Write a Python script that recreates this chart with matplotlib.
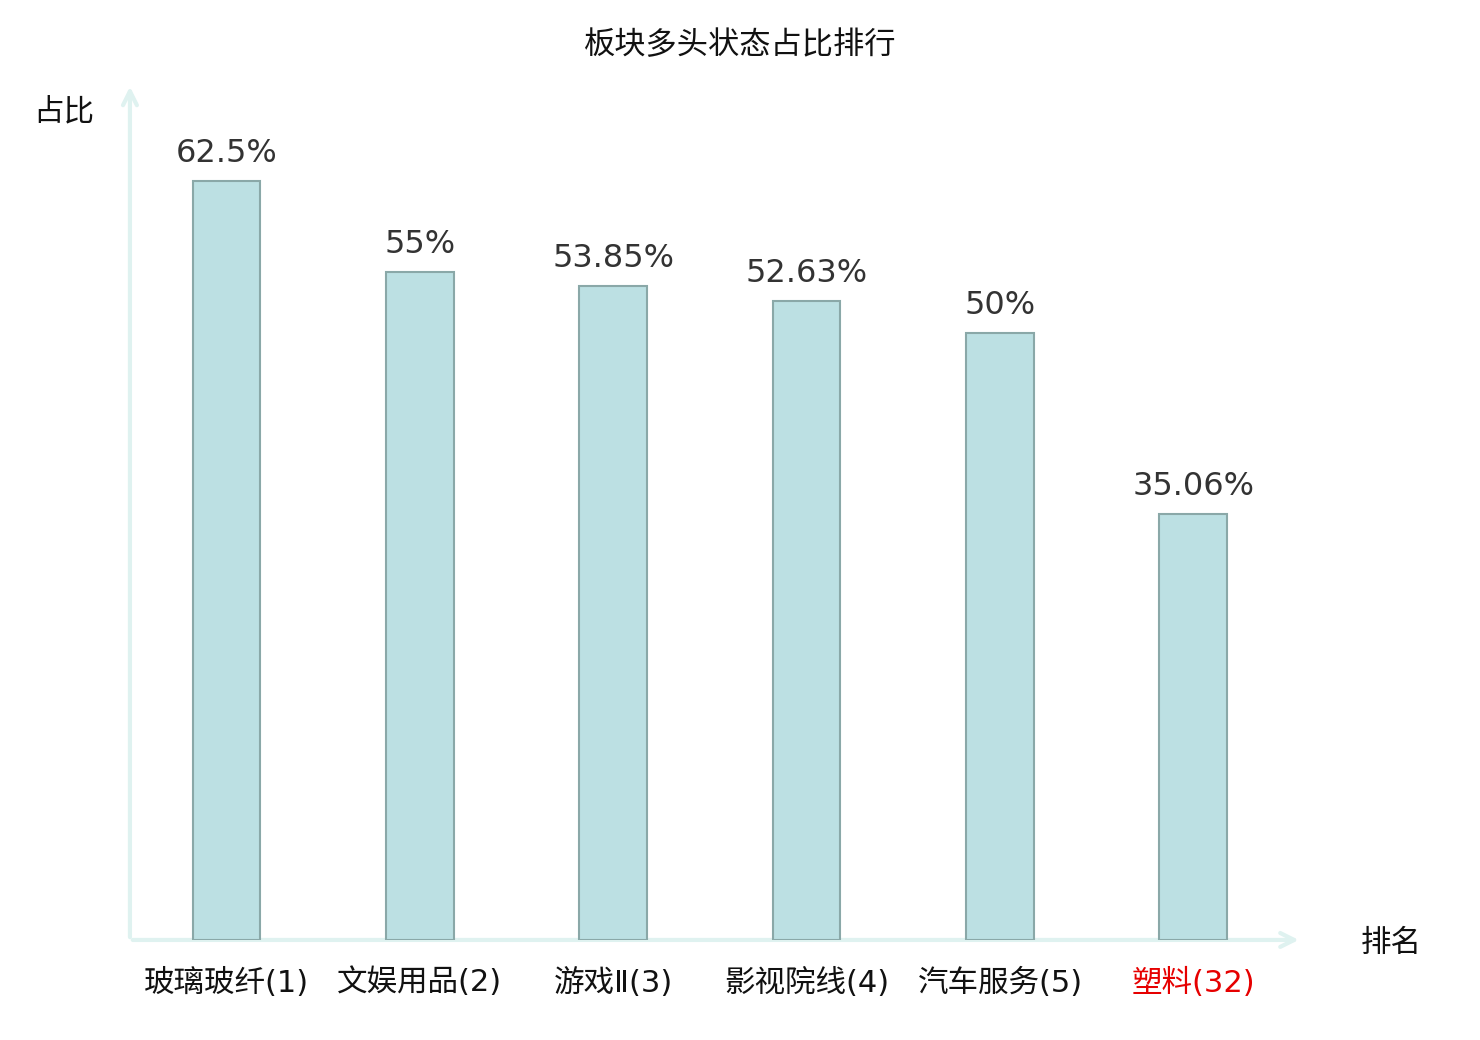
import matplotlib
matplotlib.use("Agg")
import matplotlib.pyplot as plt

plt.rcParams['font.family'] = ['Noto Sans CJK SC', 'DejaVu Sans']

# Data
categories = ["玻璃玻纤(1)", "文娱用品(2)", "游戏Ⅱ(3)", "影视院线(4)", "汽车服务(5)", "塑料(32)"]
values = [62.5, 55, 53.85, 52.63, 50, 35.06]
value_labels = ["62.5%", "55%", "53.85%", "52.63%", "50%", "35.06%"]
label_colors = ["#111111", "#111111", "#111111", "#111111", "#111111", "#e60000"]

fig = plt.figure(figsize=(14.8, 10.4), dpi=100)
ax = fig.add_axes([0.0878, 0.0962, 0.7838, 0.8173])

x = list(range(len(categories)))
bars = ax.bar(x, values, width=0.35, color="#bce0e3", edgecolor="#8aa8a8", linewidth=1.5, zorder=2)

for xi, v, lab in zip(x, values, value_labels):
    ax.text(xi, v + 1.0, lab, ha="center", va="bottom", fontsize=23,
            color="#333333", family="DejaVu Sans")

ax.set_xlim(-0.5, 5.5)
ax.set_ylim(0, 70)

for s in ax.spines.values():
    s.set_visible(False)
ax.set_yticks([])
ax.set_xticks(x)
ax.set_xticklabels(categories, fontsize=22, family=['DejaVu Sans', 'Noto Sans CJK SC'])
for t, c in zip(ax.get_xticklabels(), label_colors):
    t.set_color(c)
ax.tick_params(axis="x", length=0, pad=20)

# axis lines with open arrows
axis_color = "#dff2f0"
ax.annotate("", xy=(5.56, 0), xytext=(-0.5, 0), xycoords="data",
            arrowprops=dict(arrowstyle="->,head_length=1.0,head_width=0.5",
                            color=axis_color, lw=3), annotation_clip=False, zorder=1)
ax.annotate("", xy=(-0.5, 70.5), xytext=(-0.5, 0), xycoords="data",
            arrowprops=dict(arrowstyle="->,head_length=1.0,head_width=0.5",
                            color=axis_color, lw=3), annotation_clip=False, zorder=1)

fig.text(0.5, 0.957, "板块多头状态占比排行", ha="center", va="center", fontsize=22.5, color="#111111")
fig.text(0.043, 0.892, "占比", ha="center", va="center", fontsize=22, color="#111111")
fig.text(0.94, 0.093, "排名", ha="center", va="center", fontsize=22, color="#111111")

fig.savefig("out.png", dpi=100)
